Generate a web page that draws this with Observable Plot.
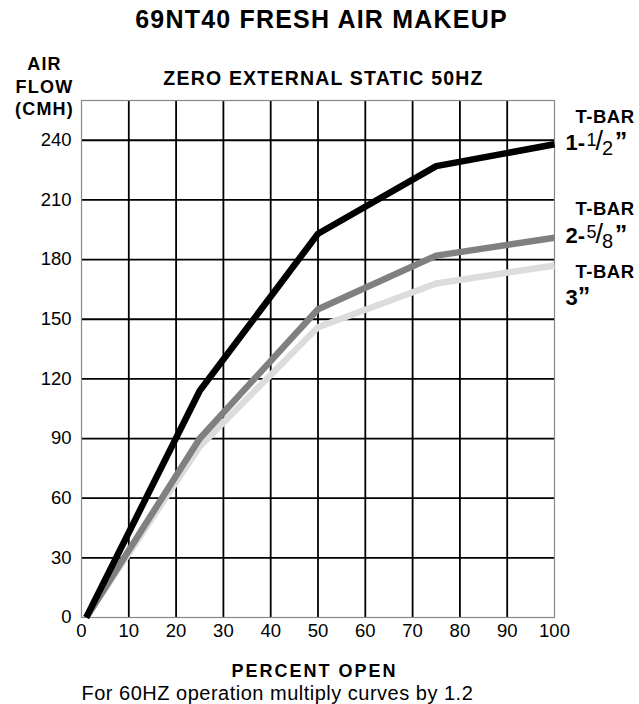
<!DOCTYPE html>
<html><head><meta charset="utf-8">
<script src="https://cdn.jsdelivr.net/npm/d3@7"></script>
<script src="https://cdn.jsdelivr.net/npm/@observablehq/plot@0.6"></script>
<style>
body{margin:0;background:#fff}
#chart svg{font-family:"Liberation Sans",Arial,Helvetica,sans-serif}
</style>
</head><body><div id="chart"></div>
<script>
// ---- data ----
const percentOpen = [1, 25, 50, 75, 100];
const flowTbar1_5 = [0, 114, 193, 227, 238];   // T-BAR 1-1/2"
const flowTbar2_625 = [0, 90, 155, 182, 191];  // T-BAR 2-5/8"
const flowTbar3 = [0, 86, 146, 168, 177];      // T-BAR 3"
const seriesSizes = ["1-1/2", "2-5/8", "3"];
const xTicks = [0, 10, 20, 30, 40, 50, 60, 70, 80, 90, 100];
const yTicks = [0, 30, 60, 90, 120, 150, 180, 210, 240];
const titleText = "69NT40 FRESH AIR MAKEUP";
const subtitleText = "ZERO EXTERNAL STATIC 50HZ";
const yLabelText = "AIR\nFLOW\n(CMH)";
const xLabelText = "PERCENT OPEN";
const noteText = "For 60HZ operation multiply curves by 1.2";

// ---- styles ----
const colors = ["#000000", "#808080", "#dcdcdc"];
const tbarDy = [-27, -29, 7];
const sizeDy = [-1, -2, 32];

const seriesValues = [flowTbar1_5, flowTbar2_625, flowTbar3];
const rows = seriesValues.flatMap((vals, i) =>
  vals.map((v, j) => ({series: seriesSizes[i], idx: i, x: percentOpen[j], y: v})));
const ends = seriesValues.map((vals, i) => ({series: seriesSizes[i], idx: i,
  x: percentOpen[percentOpen.length - 1], y: vals[vals.length - 1]}));

const drawOrder = [2, 1, 0];

const plot = Plot.plot({
  width: 639,
  height: 704,
  marginLeft: 81,
  marginRight: 85,
  marginTop: 100,
  marginBottom: 87,
  style: {fontFamily: "Liberation Sans, Arial, Helvetica, sans-serif", fontSize: "18.5px", color: "#000", background: "#fff"},
  x: {domain: [0, 100], axis: null},
  y: {domain: [0, 260], axis: null},
  marks: [
    Plot.ruleX(xTicks.filter(d => d > 0 && d < 100), {stroke: "#000", strokeWidth: 1.8}),
    Plot.ruleY(yTicks.filter(d => d > 0), {stroke: "#000", strokeWidth: 1.8}),
    Plot.frame({stroke: "#888", strokeWidth: 1.2}),
    Plot.axisX({ticks: xTicks, tickSize: 0, tickPadding: 6, fontSize: 18.5, label: null, tickFormat: d => String(d)}),
    Plot.axisY({ticks: yTicks, tickSize: 0, tickPadding: 10, fontSize: 18.5, label: null, tickFormat: d => String(d)}),
    ...drawOrder.map(i => Plot.line(rows.filter(r => r.idx === i), {
      x: "x", y: "y", stroke: colors[i], strokeWidth: 6.5, strokeLinejoin: "miter", strokeLinecap: "butt"
    })),
    ...ends.map((e, i) => Plot.text([e], {
      x: "x", y: "y", text: () => "T-BAR", dx: 21, dy: tbarDy[i], textAnchor: "start",
      fontSize: 18.5, fontWeight: "bold", lineAnchor: "middle"
    })),
    ...ends.map((e, i) => Plot.text([e], {
      x: "x", y: "y", text: "series", dx: 11, dy: sizeDy[i], textAnchor: "start",
      fontSize: 22, lineAnchor: "middle"
    })),
    Plot.text([titleText], {frameAnchor: "top", dx: 3.5, dy: -81, fontSize: 25, fontWeight: "bold", lineAnchor: "middle"}),
    Plot.text([subtitleText], {frameAnchor: "top", dx: 5.5, dy: -22, fontSize: 19.5, fontWeight: "bold", lineAnchor: "middle"}),
    Plot.text([yLabelText], {frameAnchor: "top-left", dx: -37, dy: -15, fontSize: 18, fontWeight: "bold", lineAnchor: "middle", lineHeight: 1.26, textAnchor: "middle"}),
    Plot.text([xLabelText], {frameAnchor: "bottom", dx: -3.5, dy: 54, fontSize: 18, fontWeight: "bold", lineAnchor: "middle"}),
    Plot.text([noteText], {frameAnchor: "bottom-left", dx: 0, dy: 76, fontSize: 20, textAnchor: "start", lineAnchor: "middle"})
  ]
});

const svg = d3.select(plot);
const spacing = new Map([
  [titleText, "1.2px"], [subtitleText, "1.2px"], [xLabelText, "2px"],
  [noteText, "0.5px"], ["T-BAR", "0.5px"]
]);
svg.selectAll("text").each(function() {
  const t = d3.select(this);
  const s = this.textContent;
  if (spacing.has(s)) t.attr("letter-spacing", spacing.get(s));
  if (s === yLabelText.replace(/\n/g, "")) t.attr("letter-spacing", "1.2px");
});

svg.selectAll("text").filter(function() { return seriesSizes.includes(this.textContent); }).each(function() {
  const t = d3.select(this);
  const s = this.textContent;
  const m = s.match(/^(\d+)(?:-(\d+)\/(\d+))?$/);
  t.text(null);
  if (m && m[2]) {
    t.append("tspan").attr("font-weight", "bold").text(m[1] + "-");
    t.append("tspan").attr("font-size", "18px").attr("dy", -4.5).attr("dx", 1.5).text(m[2]);
    t.append("tspan").attr("font-size", "27px").attr("dy", 4.5).attr("dx", -1).text("/");
    t.append("tspan").attr("font-size", "20px").attr("dy", 5).attr("dx", -1).text(m[3]);
    t.append("tspan").attr("font-weight", "bold").attr("font-size", "25px").attr("dy", -5).attr("dx", 1.5).text("\u201D");
  } else {
    t.append("tspan").attr("font-weight", "bold").text(m ? m[1] : s);
    t.append("tspan").attr("font-weight", "bold").attr("font-size", "25px").text("\u201D");
  }
});

document.getElementById("chart").appendChild(plot);
</script>
</body></html>
